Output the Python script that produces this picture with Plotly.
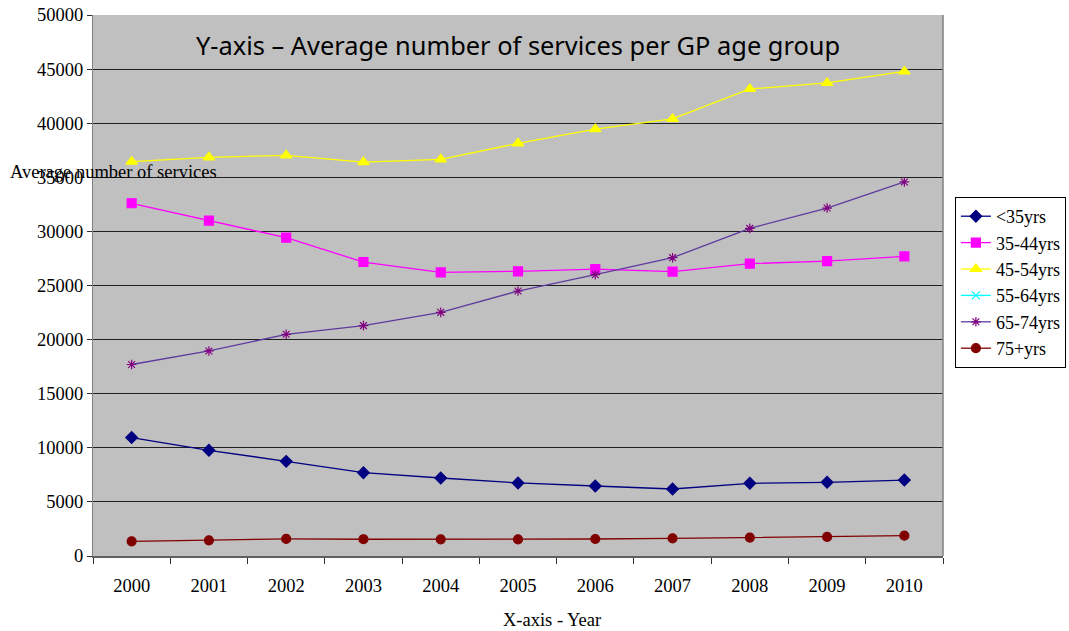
import plotly.graph_objects as go

years = ["2000", "2001", "2002", "2003", "2004", "2005", "2006", "2007", "2008", "2009", "2010"]
under35 = [10950, 9770, 8750, 7700, 7210, 6750, 6470, 6190, 6720, 6810, 7020]
age35_44 = [32600, 30990, 29420, 27170, 26220, 26310, 26520, 26280, 27020, 27260, 27700]
age45_54 = [36440, 36850, 37030, 36410, 36660, 38140, 39460, 40390, 43160, 43720, 44780]
age55_64 = [None] * 11
age65_74 = [17700, 18950, 20490, 21290, 22520, 24490, 26000, 27570, 30280, 32160, 34570]
age75plus = [1360, 1450, 1580, 1550, 1540, 1540, 1570, 1630, 1700, 1760, 1880]

series = [
    ("<35yrs", under35, "#000080", "#000080", "diamond", 9),
    ("35-44yrs", age35_44, "#FF00FF", "#FF00FF", "square", 9),
    ("45-54yrs", age45_54, "#FFFF00", "#FFFF00", "triangle-up", 10),
    ("55-64yrs", age55_64, "#00FFFF", "#00FFFF", "x-thin-open", 8),
    ("65-74yrs", age65_74, "#5E3A9E", "#800080", "asterisk-open", 8),
    ("75+yrs", age75plus, "#800000", "#800000", "circle", 9),
]

fig = go.Figure()
for name, vals, lc, mc, sym, sz in series:
    fig.add_trace(go.Scatter(
        x=years, y=vals, name=name, mode="lines+markers", legendgroup=name,
        line=dict(color=lc, width=1.3),
        marker=dict(symbol=sym, size=sz, color=mc, line=dict(color=mc, width=1.2)),
    ))

serif = "Liberation Serif"
fs = 18.5
fig.update_layout(
    width=1069, height=631,
    margin=dict(l=93, r=126, t=15, b=75, autoexpand=False),
    paper_bgcolor="white",
    plot_bgcolor="#C0C0C0",
    font=dict(family=serif, size=fs, color="black"),
    showlegend=True,
    legend=dict(
        x=1.014, y=(556 - 197) / 541, xanchor="left", yanchor="top",
        bgcolor="white", bordercolor="black", borderwidth=1,
        font=dict(family=serif, size=18, color="black"),
        tracegroupgap=0, itemwidth=30,
    ),
    xaxis=dict(
        type="category", range=[-0.5, len(years) - 0.5], tickson="boundaries",
        ticks="outside", ticklen=6,
        tickcolor="#303030", showgrid=False, showline=True, linecolor="#606060",
        linewidth=2, mirror=False, ticklabelstandoff=12,
        tickfont=dict(family=serif, size=fs, color="black"),
        zeroline=False,
    ),
    yaxis=dict(
        range=[0, 50000], dtick=5000, ticks="outside", ticklen=5,
        tickcolor="#303030", showgrid=True, gridcolor="#202020", gridwidth=1,
        showline=True, linecolor="#808080", linewidth=1,
        tickfont=dict(family=serif, size=fs, color="black"),
        zeroline=False, tickformat="d",
    ),
)

# right border of plot area
fig.add_shape(type="line", xref="paper", yref="paper", x0=1, x1=1, y0=0, y1=1,
              line=dict(color="#808080", width=1.5))

fig.add_annotation(
    text="Y-axis \u2013 Average number of services per GP age group",
    xref="paper", yref="paper", x=0.5, y=(556 - 45) / 541, xanchor="center", yanchor="middle",
    showarrow=False, font=dict(family="Noto Sans", size=25.4, color="black"),
)
fig.add_annotation(
    text="Average number of services",
    xref="paper", yref="paper", x=(8 - 93) / 850, y=(556 - 172) / 541,
    xanchor="left", yanchor="middle", showarrow=False,
    font=dict(family=serif, size=fs, color="black"),
)
fig.add_annotation(
    text="X-axis - Year",
    xref="paper", yref="paper", x=(552 - 93) / 850, y=(556 - 620) / 541,
    xanchor="center", yanchor="middle", showarrow=False,
    font=dict(family=serif, size=fs, color="black"),
)

fig.write_html("out.html", config={"displayModeBar": False},
               post_script="document.body.style.margin='0';document.body.style.overflow='hidden';")
